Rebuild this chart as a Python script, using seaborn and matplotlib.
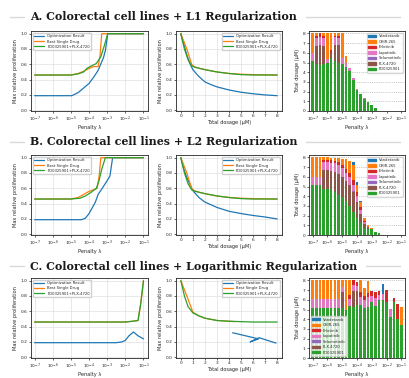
import numpy as np
import matplotlib
matplotlib.use("Agg")
import matplotlib.pyplot as plt
import seaborn as sns
from matplotlib.lines import Line2D
from matplotlib.patches import Patch

sns.set_theme(style="whitegrid")
plt.rcParams.update({
    "font.family": ["DejaVu Sans"],
    "axes.edgecolor": "0.15",
    "axes.linewidth": 0.6,
    "grid.color": "0.88",
    "grid.linewidth": 0.5,
    "xtick.bottom": True,
    "ytick.left": True,
    "xtick.major.size": 1.5,
    "ytick.major.size": 1.5,
    "xtick.major.width": 0.5,
    "ytick.major.width": 0.5,
    "xtick.major.pad": 1.0,
    "ytick.major.pad": 1.0,
    "xtick.color": "0.15",
    "ytick.color": "0.15",
})

TICK_FS = 3.2
LABEL_FS = 3.6
LEGEND_FS = 2.7

ROW_TITLES = [
    "A. Colorectal cell lines + L1 Regularization",
    "B. Colorectal cell lines + L2 Regularization",
    "C. Colorectal cell lines + Logarithmic Regularization",
]
LINE_LABELS = ["Optimization Result", "Best Single Drug", "PD0325901+PLX-4720"]
DRUGS = ["PD0325901", "PLX-4720", "Selumetinib", "Lapatinib", "Erlotinib", "CHIR-265", "Vandetanib"]
DRUG_COLORS = ["tab:green", "tab:brown", "tab:purple", "tab:pink", "tab:red", "tab:orange", "tab:blue"]
PENALTY_LABELS = [r"$10^{-7}$", r"$10^{-6}$", r"$10^{-5}$", r"$10^{-4}$",
                  r"$10^{-3}$", r"$10^{-2}$", r"$10^{-1}$"]

# ---- penalty curves (log10 penalty, max relative proliferation) ----
a_opt_lx = [-7, -4.95, -4.6, -4.3, -4.0, -3.75, -3.5, -3.2, -3.1, -2.97, -1]
a_opt_y = [0.19, 0.19, 0.23, 0.29, 0.35, 0.43, 0.52, 0.69, 0.78, 1.0, 1.0]
a_best_lx = [-7, -5.0, -4.6, -4.3, -4.0, -3.75, -3.5, -3.4, -3.3, -1]
a_best_y = [0.46, 0.46, 0.48, 0.51, 0.545, 0.57, 0.57, 0.7, 1.0, 1.0]
a_combo_lx = [-7, -5.0, -4.6, -4.3, -4.1, -3.9, -3.6, -3.35, -3.15, -2.97, -1]
a_combo_y = [0.46, 0.46, 0.475, 0.5, 0.55, 0.575, 0.61, 0.7, 0.85, 1.0, 1.0]

b_opt_lx = [-7, -4.4, -4.2, -4.0, -3.65, -3.5, -3.3, -3.0, -2.85, -2.7, -1]
b_opt_y = [0.19, 0.19, 0.21, 0.27, 0.42, 0.52, 0.59, 0.7, 0.76, 1.0, 1.0]
b_best_lx = [-7, -5.0, -4.6, -4.3, -4.0, -3.75, -3.55, -3.45, -3.35, -1]
b_best_y = [0.46, 0.46, 0.48, 0.52, 0.56, 0.58, 0.6, 0.75, 1.0, 1.0]
b_combo_lx = [-7, -5.0, -4.5, -4.2, -3.9, -3.6, -3.45, -3.3, -3.1, -1]
b_combo_y = [0.46, 0.46, 0.47, 0.5, 0.545, 0.6, 0.7, 0.85, 1.0, 1.0]

c_opt_lx = [-7, -2.5, -2.2, -2.0, -1.8, -1.55, -1.3, -1.0]
c_opt_y = [0.19, 0.19, 0.2, 0.22, 0.28, 0.33, 0.28, 0.24]
c_best_lx = [-7, -2.0, -1.6, -1.3, -1.15, -1.0]
c_best_y = [0.46, 0.46, 0.47, 0.48, 0.7, 1.0]
c_combo_lx = [-7, -2.0, -1.6, -1.3, -1.15, -1.0]
c_combo_y = [0.46, 0.46, 0.47, 0.48, 0.7, 1.0]

# ---- dosage curves (total dosage uM, max relative proliferation) ----
a_opt_dx = [0, 0.25, 0.5, 0.75, 1, 1.5, 2, 2.5, 3, 4, 5, 6, 7, 8]
a_opt_dy = [1.0, 0.86, 0.72, 0.61, 0.53, 0.44, 0.37, 0.335, 0.305, 0.265, 0.235, 0.215, 0.2, 0.19]
a_best_dx = [0, 0.5, 0.9, 1.1, 1.5, 2, 3, 4, 5, 6, 8]
a_best_dy = [1.0, 0.8, 0.6, 0.57, 0.55, 0.53, 0.5, 0.48, 0.47, 0.465, 0.46]
a_combo_dx = [0, 0.3, 0.6, 0.9, 1.2, 2, 3, 4, 5, 6, 8]
a_combo_dy = [1.0, 0.8, 0.66, 0.58, 0.56, 0.53, 0.5, 0.48, 0.465, 0.46, 0.46]

b_opt_dx = [0, 0.25, 0.5, 1, 1.5, 2, 3, 4, 5, 6, 7, 8]
b_opt_dy = [1.0, 0.85, 0.74, 0.57, 0.48, 0.42, 0.35, 0.3, 0.27, 0.245, 0.225, 0.2]
b_best_dx = [0, 0.5, 0.9, 1.1, 1.5, 2, 3, 4, 5, 6, 8]
b_best_dy = [1.0, 0.8, 0.6, 0.57, 0.55, 0.53, 0.5, 0.48, 0.47, 0.465, 0.46]
b_combo_dx = [0, 0.3, 0.6, 0.9, 1.2, 2, 3, 4, 5, 6, 8]
b_combo_dy = [1.0, 0.8, 0.66, 0.58, 0.56, 0.53, 0.5, 0.48, 0.465, 0.46, 0.46]

c_opt_dx = [4.3, 6.45, 5.75, 6.5, 7.9]
c_opt_dy = [0.32, 0.24, 0.2, 0.255, 0.185]
c_best_dx = [0, 0.5, 1, 1.5, 2, 3, 4, 4.5]
c_best_dy = [1.0, 0.8, 0.59, 0.54, 0.51, 0.48, 0.47, 0.465]
c_combo_dx = [0, 0.3, 0.6, 1, 1.5, 2, 3, 4, 5, 6, 8]
c_combo_dy = [1.0, 0.8, 0.66, 0.58, 0.54, 0.51, 0.48, 0.47, 0.465, 0.46, 0.46]

# ---- drug dosages per penalty (25 penalties, 4 per decade, 1e-7 .. 1e-1) ----
a_pd = [5.2, 4.85, 4.75, 4.85, 5.0, 5.5, 5.2, 4.9, 4.8, 4.5, 4.1, 3.2, 2.2, 1.75, 1.25, 0.9, 0.6, 0.3, 0, 0, 0, 0, 0, 0, 0]
a_plx = [0, 1.9, 2.1, 1.85, 0, 0.5, 1.6, 1.9, 0, 0, 0, 0, 0, 0, 0, 0, 0, 0, 0, 0, 0, 0, 0, 0, 0]
a_sel = [0] * 25
a_lap = [0.8, 0.75, 0.8, 0.8, 0.4, 0, 0.8, 0.7, 0.7, 0.5, 0.3, 0.2, 0.1, 0.05, 0.05, 0, 0, 0, 0, 0, 0, 0, 0, 0, 0]
a_erl = [0, 0.2, 0.35, 0.2, 0, 0.3, 0.15, 0.2, 0, 0, 0, 0, 0, 0, 0, 0, 0, 0, 0, 0, 0, 0, 0, 0, 0]
a_chir = [2.0, 0.3, 0, 0.3, 2.6, 1.7, 0.25, 0.3, 2.5, 0.7, 0, 0, 0, 0, 0, 0, 0, 0, 0, 0, 0, 0, 0, 0, 0]
a_van = [0] * 25

b_pd = [5.2, 5.2, 5.2, 4.7, 4.7, 4.75, 4.4, 4.1, 3.9, 3.5, 3.0, 2.4, 1.8, 1.2, 0.7, 0.6, 0.6, 0.35, 0.25, 0, 0, 0, 0, 0, 0]
b_plx = [0, 0, 0, 2.0, 2.05, 1.9, 2.1, 2.2, 2.1, 2.1, 2.2, 2.0, 1.6, 1.0, 0.4, 0.2, 0, 0, 0, 0, 0, 0, 0, 0, 0]
b_sel = [0, 0, 0, 0, 0, 0, 0, 0, 0, 0, 0, 0.1, 0, 0, 0, 0, 0, 0, 0, 0, 0, 0, 0, 0, 0]
b_lap = [0.8, 0.8, 0.8, 0.8, 0.75, 0.8, 0.9, 0.9, 0.9, 0.8, 0.8, 0.7, 0.6, 0.4, 0.2, 0, 0, 0, 0, 0, 0, 0, 0, 0, 0]
b_erl = [0, 0, 0, 0.25, 0.2, 0.3, 0.2, 0.3, 0.3, 0.4, 0.4, 0.5, 0.4, 0.3, 0.1, 0, 0, 0, 0, 0, 0, 0, 0, 0, 0]
b_chir = [2.0, 2.0, 2.0, 0.25, 0.3, 0.2, 0.3, 0.4, 0.6, 1.0, 1.2, 1.5, 0.8, 0.5, 0.4, 0.2, 0.1, 0, 0, 0, 0, 0, 0, 0, 0]
b_van = [0, 0, 0, 0, 0, 0, 0, 0, 0, 0, 0, 0.3, 0.3, 0.1, 0, 0, 0, 0, 0, 0, 0, 0, 0, 0, 0]

c_pd = [5.2, 5.2, 5.2, 5.2, 5.2, 5.2, 5.2, 5.2, 5.2, 5.0, 5.4, 5.3, 5.5, 5.5, 5.2, 5.3, 5.8, 5.4, 6.0, 6.0, 5.8, 4.2, 5.8, 4.0, 3.4]
c_plx = [0, 0, 0, 0, 0, 0, 0, 0, 1.6, 0, 0, 1.6, 1.4, 0, 0, 0, 0, 0, 0, 0, 0, 0, 0, 0, 0]
c_sel = [0] * 25
c_lap = [0.85, 0.85, 0.85, 0.85, 0.85, 0.85, 0.85, 0.85, 0.5, 0, 0.7, 0.6, 0.5, 0.8, 0.8, 1.0, 0.6, 0.8, 0.5, 0.6, 0, 0.9, 0, 0, 0]
c_erl = [0, 0, 0, 0, 0, 0, 0, 0, 0, 0, 0.4, 0.5, 0.4, 0.5, 0.4, 0.4, 0.5, 0.6, 0.4, 0, 1.2, 0, 0.4, 1.6, 0]
c_chir = [1.95, 1.95, 1.95, 1.95, 1.95, 1.95, 1.95, 1.95, 0.7, 3.0, 1.5, 0, 0, 1.2, 0.8, 1.2, 0, 0, 0, 0, 0, 0, 0, 0, 1.9]
c_van = [0, 0, 0, 0, 0, 0, 0, 0, 0, 0, 0, 0, 0, 0, 0, 0, 0, 0, 0, 1.0, 0, 0, 0, 0, 0]

rows = [
    dict(pen=[(a_opt_lx, a_opt_y), (a_best_lx, a_best_y), (a_combo_lx, a_combo_y)],
         dose=[(a_opt_dx, a_opt_dy), (a_best_dx, a_best_dy), (a_combo_dx, a_combo_dy)],
         bars=[a_pd, a_plx, a_sel, a_lap, a_erl, a_chir, a_van], bar_loc="upper right"),
    dict(pen=[(b_opt_lx, b_opt_y), (b_best_lx, b_best_y), (b_combo_lx, b_combo_y)],
         dose=[(b_opt_dx, b_opt_dy), (b_best_dx, b_best_dy), (b_combo_dx, b_combo_dy)],
         bars=[b_pd, b_plx, b_sel, b_lap, b_erl, b_chir, b_van], bar_loc="upper right"),
    dict(pen=[(c_opt_lx, c_opt_y), (c_best_lx, c_best_y), (c_combo_lx, c_combo_y)],
         dose=[(c_opt_dx, c_opt_dy), (c_best_dx, c_best_dy), (c_combo_dx, c_combo_dy)],
         bars=[c_pd, c_plx, c_sel, c_lap, c_erl, c_chir, c_van], bar_loc="lower left"),
]

W, H = 410, 378
fig = plt.figure(figsize=(W / 100, H / 100), dpi=100)
line_colors = sns.color_palette("tab10")[:3]


def px_axes(x0, x1, top, bottom):
    return fig.add_axes([x0 / W, 1 - bottom / H, (x1 - x0) / W, (bottom - top) / H])


def style_axes(ax):
    ax.tick_params(labelsize=TICK_FS)
    for s in ax.spines.values():
        s.set_visible(True)
        s.set_color("0.15")
        s.set_linewidth(0.6)


row_tops = [31, 155, 278]
title_ys = [17, 142, 266]

fig.canvas.draw()
renderer = fig.canvas.get_renderer()

for r, row in enumerate(rows):
    top = row_tops[r]
    bottom = top + 80

    # --- row header with rules ---
    t = fig.text(30 / W, 1 - title_ys[r] / H, ROW_TITLES[r], family="DejaVu Serif",
                 weight="bold", fontsize=7.9, ha="left", va="center", color="0.1")
    ext = t.get_window_extent(renderer=renderer)
    ly = 1 - title_ys[r] / H
    fig.add_artist(Line2D([10 / W, 24 / W], [ly, ly], color="0.85", lw=1.0))
    fig.add_artist(Line2D([(ext.x1 + 9) / W, 400 / W], [ly, ly], color="0.85", lw=1.0))

    # --- panel 1: proliferation vs penalty ---
    ax1 = px_axes(31, 148, top, bottom)
    for (lx, yv), lab, col in zip(row["pen"], LINE_LABELS, line_colors):
        sns.lineplot(x=10.0 ** np.array(lx), y=yv, ax=ax1, color=col, label=lab,
                     sort=False, estimator=None, linewidth=0.9)
    ax1.set_xscale("log")
    ax1.set_xlim(10 ** -7.2, 10 ** -0.75)
    ax1.set_xticks([10.0 ** k for k in range(-7, 0)])
    ax1.minorticks_off()
    ax1.set_ylim(-0.01, 1.035)
    ax1.set_yticks([0, 0.2, 0.4, 0.6, 0.8, 1.0])
    ax1.set_yticklabels(["0.0", "0.2", "0.4", "0.6", "0.8", "1.0"])
    ax1.set_xlabel("Penalty λ", fontsize=LABEL_FS, labelpad=0.8)
    ax1.set_ylabel("Max relative proliferation", fontsize=LABEL_FS, labelpad=2)
    style_axes(ax1)
    ax1.legend(loc="upper left", fontsize=LEGEND_FS, handlelength=2.6, borderpad=0.4,
               labelspacing=0.3, framealpha=0.9, edgecolor="0.8")

    # --- panel 2: proliferation vs total dosage ---
    ax2 = px_axes(176, 282, top, bottom)
    for (dx, dy), lab, col in zip(row["dose"], LINE_LABELS, line_colors):
        sns.lineplot(x=dx, y=dy, ax=ax2, color=col, label=lab,
                     sort=False, estimator=None, linewidth=0.9)
    ax2.set_xlim(-0.4, 8.4)
    ax2.set_xticks(range(0, 9))
    ax2.set_ylim(-0.01, 1.035)
    ax2.set_yticks([0, 0.2, 0.4, 0.6, 0.8, 1.0])
    ax2.set_yticklabels(["0.0", "0.2", "0.4", "0.6", "0.8", "1.0"])
    ax2.set_xlabel("Total dosage (μM)", fontsize=LABEL_FS, labelpad=0.8)
    ax2.set_ylabel("Max relative proliferation", fontsize=LABEL_FS, labelpad=2)
    style_axes(ax2)
    ax2.legend(loc="upper right", fontsize=LEGEND_FS, handlelength=2.6, borderpad=0.4,
               labelspacing=0.3, framealpha=0.9, edgecolor="0.8")

    # --- panel 3: stacked dosage per drug ---
    ax3 = px_axes(309, 405, top, bottom)
    pos = np.arange(len(row["bars"][0]))
    base = np.zeros(len(pos))
    handles = []
    for vals, name, col in zip(row["bars"], DRUGS, DRUG_COLORS):
        vals = np.array(vals, dtype=float)
        ax3.bar(pos, vals, bottom=base, width=0.7, color=col, linewidth=0)
        base += vals
        handles.append(Patch(color=col, label=name))
    ax3.set_xlim(-1, 25)
    ax3.set_xticks(pos[::4])
    ax3.set_xticklabels(PENALTY_LABELS)
    ax3.set_ylim(0, 8.25)
    ax3.set_yticks(range(0, 9))
    ax3.grid(False)
    ax3.grid(axis="y", linestyle=":", color="0.6", linewidth=0.5)
    ax3.set_axisbelow(True)
    ax3.set_xlabel("Penalty λ", fontsize=LABEL_FS, labelpad=0.8)
    ax3.set_ylabel("Total dosage (μM)", fontsize=LABEL_FS, labelpad=2)
    style_axes(ax3)
    ax3.legend(handles=handles[::-1], loc=row["bar_loc"], fontsize=LEGEND_FS,
               handlelength=2.0, handleheight=0.6, borderpad=0.4, labelspacing=0.4,
               framealpha=0.8, edgecolor="0.8")

fig.savefig("out.png", dpi=100)
